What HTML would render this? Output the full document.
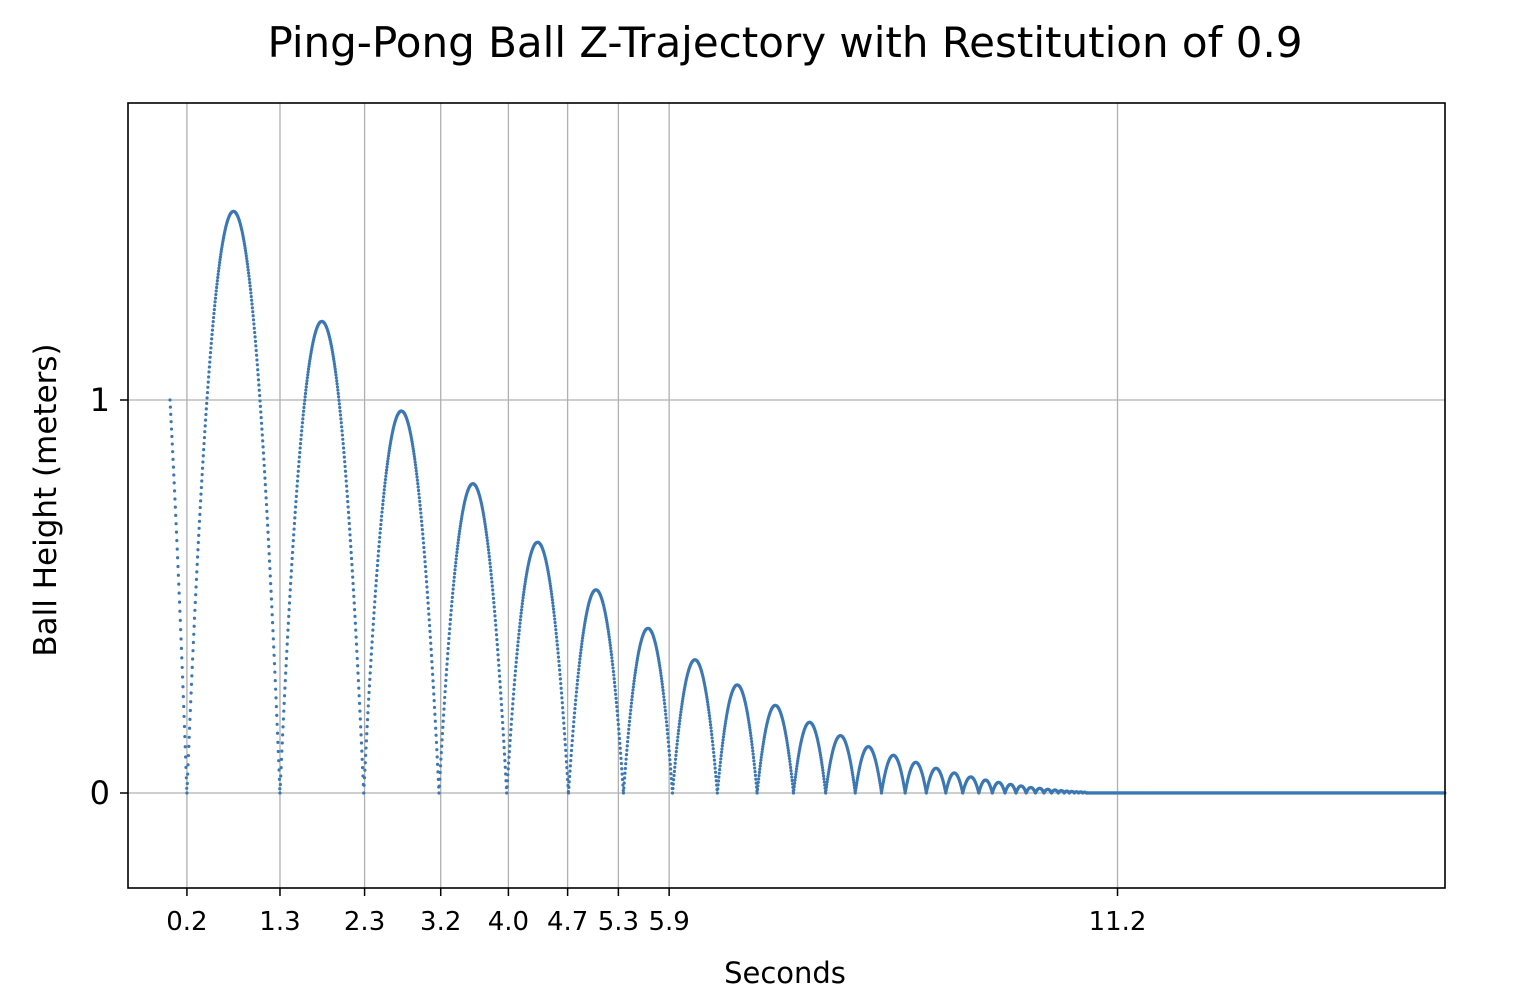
<!DOCTYPE html>
<html><head><meta charset="utf-8"><style>
body{margin:0;background:#fff;width:1526px;height:988px;overflow:hidden;font-family:"Liberation Sans","DejaVu Sans",sans-serif}
svg text{font-family:"DejaVu Sans","Liberation Sans",sans-serif;fill:#000}
</style></head><body>
<svg id="chart" width="1526" height="988" xmlns="http://www.w3.org/2000/svg">
<text x="785" y="57" font-size="42" text-anchor="middle">Ping-Pong Ball Z-Trajectory with Restitution of 0.9</text>
<g id="grid"></g>
<g id="marks"></g>
<rect x="128" y="103" width="1317" height="785" fill="none" stroke="#000" stroke-width="1.6"/>
<g id="ticks"></g>
<text x="785" y="983" font-size="29" text-anchor="middle">Seconds</text>
<text transform="translate(56,500) rotate(-90)" font-size="31" text-anchor="middle">Ball Height (meters)</text>
</svg>
<script>
const xTickValues=[0.2,1.3,2.3,3.2,4.0,4.7,5.3,5.9,11.2];
const xTickLabels=["0.2","1.3","2.3","3.2","4.0","4.7","5.3","5.9","11.2"];
const yTickValues=[0,1];
const yTickLabels=["0","1"];
const startTime=0, startHeight=1;
const bounceTimes=[0.2,1.3,2.29,3.18,3.98,4.71,5.36,5.94,6.47,6.94,7.37,7.75,8.10,8.41,8.69,8.94,9.17,9.37,9.56,9.72,9.87,10.0,10.12,10.23,10.33,10.42,10.5,10.57,10.63,10.69,10.74,10.79,10.83];
const peakHeights=[1.48,1.2,0.972,0.787,0.638,0.517,0.419,0.339,0.275,0.223,0.18,0.146,0.118,0.096,0.078,0.063,0.051,0.041,0.033,0.027,0.022,0.018,0.014,0.012,0.0095,0.0077,0.0062,0.005,0.004,0.0033,0.0027,0.0022];
const endTime=15.07;
const X0=170, XS=84.6, Y0=793, YS=393;
const sx=t=>X0+t*XS, sy=h=>Y0-h*YS;
const NS="http://www.w3.org/2000/svg";
const grid=document.getElementById('grid'),ticks=document.getElementById('ticks'),marks=document.getElementById('marks');
function mk(tag,attrs,parent){const e=document.createElementNS(NS,tag);for(const k in attrs)e.setAttribute(k,attrs[k]);parent.appendChild(e);return e;}
xTickValues.forEach((v,i)=>{
 const x=sx(v);
 const g=mk('line',{x1:x,x2:x,y1:103,y2:888,stroke:'#b0b0b0','stroke-width':1.3},grid);
 
 
 const t=mk('line',{x1:x,x2:x,y1:888,y2:896,stroke:'#000','stroke-width':1.5},ticks);
 
 
 const l=mk('text',{x:x,y:930,'font-size':26,'text-anchor':'middle'},ticks);
 l.textContent=xTickLabels[i];
 
 
});
yTickValues.forEach((v,i)=>{
 const y=sy(v);
 const g=mk('line',{x1:128,x2:1445,y1:y,y2:y,stroke:'#b0b0b0','stroke-width':1.3},grid);
 
 
 const t=mk('line',{x1:120,x2:128,y1:y,y2:y,stroke:'#000','stroke-width':1.5},ticks);
 
 
 const l=mk('text',{x:110,y:y+11,'font-size':32,'text-anchor':'end'},ticks);
 l.textContent=yTickLabels[i];
 
 
});
const dt=0.0045;let d='';
function pt(t,h){d+='M'+sx(t).toFixed(2)+' '+sy(h).toFixed(2)+'h0';}
const T1=bounceTimes[0]-startTime,g=9.81,v0=(startHeight-0.5*g*T1*T1)/T1;
for(let t=startTime;t<=bounceTimes[0];t+=dt){const s=t-startTime;pt(t,Math.max(0,startHeight-v0*s-0.5*g*s*s));}
for(let i=0;i<bounceTimes.length-1;i++){
 const a=bounceTimes[i],b=bounceTimes[i+1],I=b-a,p=peakHeights[i]||0;
 for(let t=a;t<b;t+=dt){pt(t,p*4*(t-a)*(b-t)/(I*I));}
}
const last=bounceTimes[bounceTimes.length-1];
for(let t=last;t<=endTime;t+=dt)pt(t,0);
const path=mk('path',{d:d,stroke:'#3b78b3','stroke-width':3.2,'stroke-linecap':'round',fill:'none'},marks);


</script>
</body></html>
